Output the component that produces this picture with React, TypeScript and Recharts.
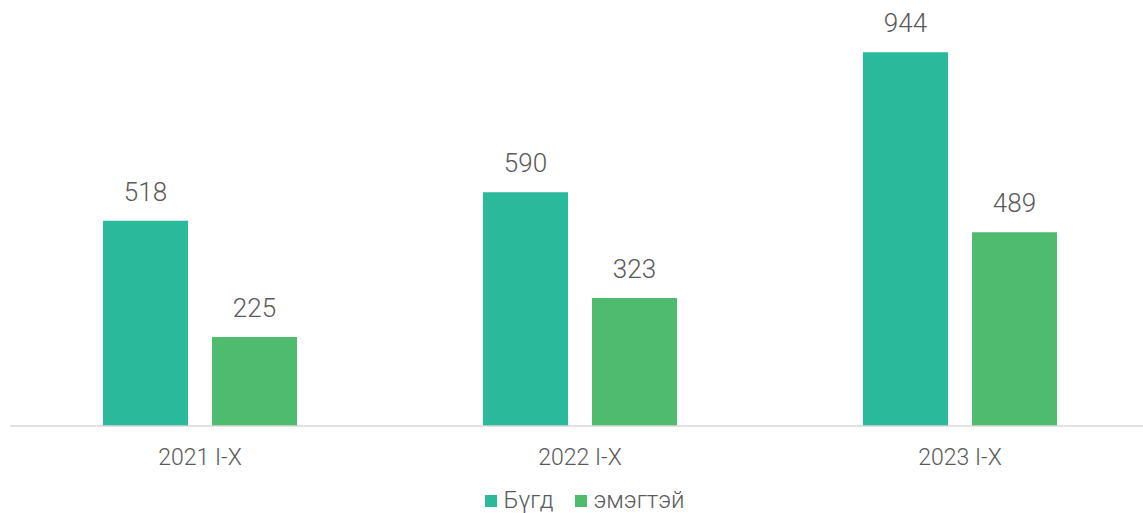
import { BarChart, Bar, XAxis, YAxis, Legend, LabelList } from "recharts";

const categories = ["2021 I-X", "2022 I-X", "2023 I-X"];
const total = [518, 590, 944];
const women = [225, 323, 489];

const data = categories.map((c, i) => ({ name: c, total: total[i], women: women[i] }));

const textColor = "#595959";
const font = "Roboto, sans-serif";

const renderLegend = (props: any) => (
  <div style={{ display: "flex", justifyContent: "center", alignItems: "center", paddingLeft: 10 }}>
    {props.payload.map((p: any, i: number) => (
      <div key={i} style={{ display: "flex", alignItems: "center", marginRight: i === 0 ? 22 : 0 }}>
        <span style={{ width: 12, height: 12, background: p.color, display: "inline-block", marginRight: 6 }} />
        <span style={{ color: textColor }}>{p.value}</span>
      </div>
    ))}
  </div>
);

export default function App() {
  return (
    <div style={{ position: "absolute", left: 0, top: 0, width: 1143, height: 513, overflow: "hidden", background: "#fff", fontFamily: font, fontWeight: 300 }}>
      <BarChart
        width={1150}
        height={513}
        data={data}
        margin={{ top: 30, right: 0, left: 10, bottom: 0 }}
        barCategoryGap={93}
        barGap={24}
      >
        <XAxis
          dataKey="name"
          height={62}
          axisLine={{ stroke: "#d9d9d9", strokeWidth: 1.5 }}
          tickLine={false}
          tick={{ fontSize: 23, fill: textColor, fontFamily: font, fontWeight: 300 }}
          tickMargin={17}
        />
        <YAxis hide domain={[0, 1000]} />
        <Legend
          verticalAlign="bottom"
          content={renderLegend}
          wrapperStyle={{ height: 25, fontSize: 24, fontFamily: font, fontWeight: 300, lineHeight: "25px" }}
        />
        <Bar dataKey="total" name="Бүгд" fill="#2ab99a" isAnimationActive={false}>
          <LabelList dataKey="total" position="top" offset={20} style={{ fontSize: 26, fill: textColor, fontFamily: font, fontWeight: 300 }} />
        </Bar>
        <Bar dataKey="women" name="эмэгтэй" fill="#4fbb6e" isAnimationActive={false}>
          <LabelList dataKey="women" position="top" offset={20} style={{ fontSize: 26, fill: textColor, fontFamily: font, fontWeight: 300 }} />
        </Bar>
      </BarChart>
    </div>
  );
}
